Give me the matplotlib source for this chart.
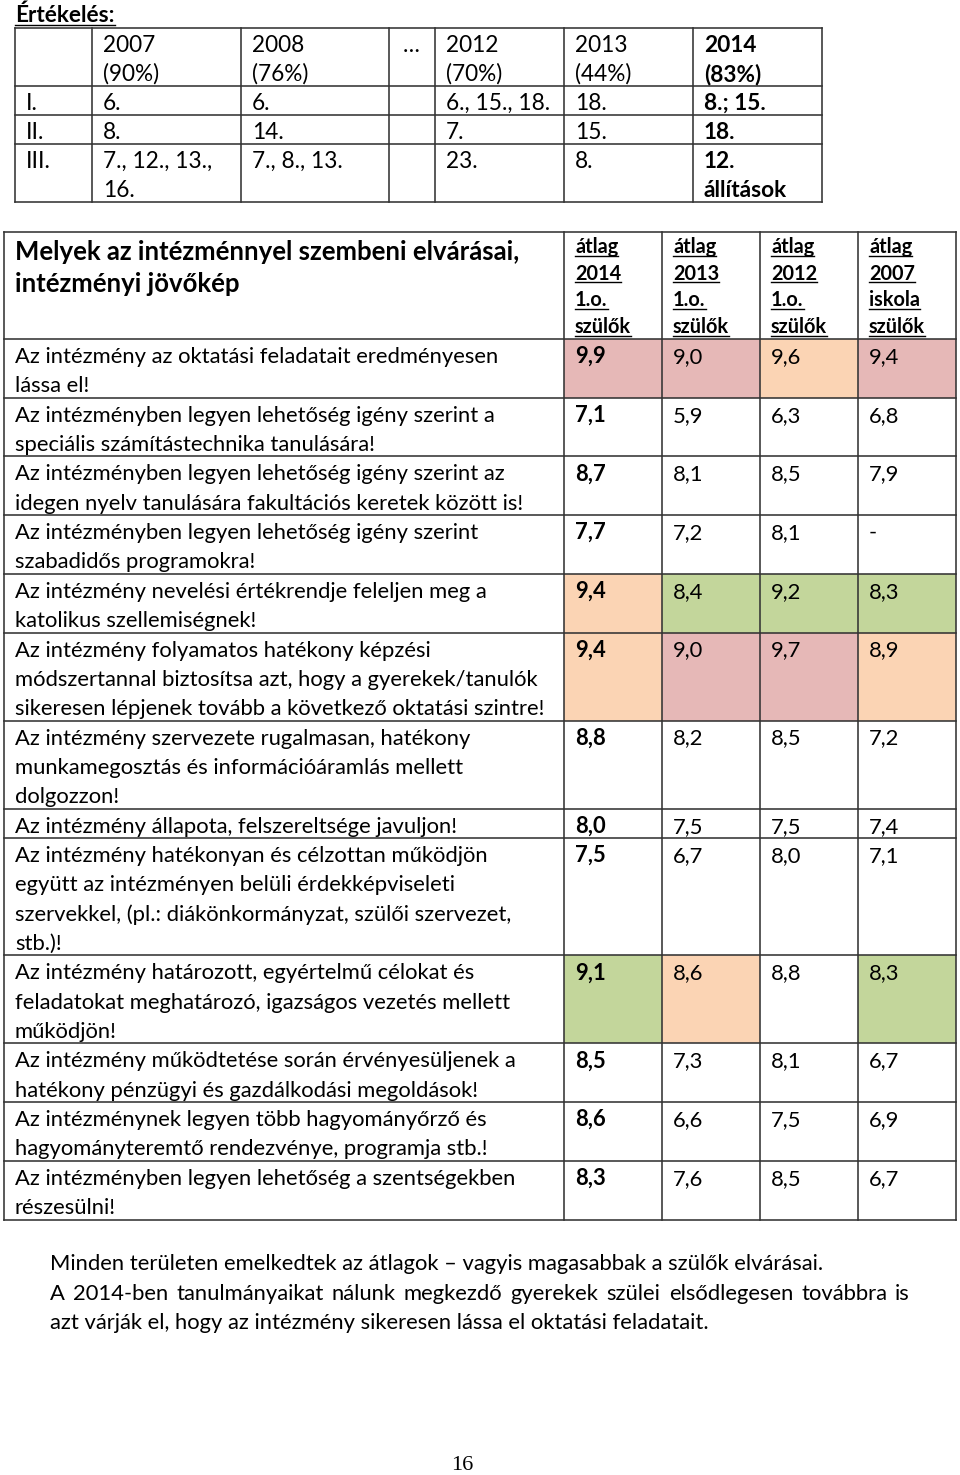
import matplotlib
matplotlib.use("Agg")
import matplotlib.pyplot as plt
from matplotlib.patches import Rectangle

# ---- data: first table (ranking of statements per survey year)
rank_header = ["", "2007\n(90%)", "2008\n(76%)", "…", "2012\n(70%)", "2013\n(44%)", "2014\n(83%)"]
rank_labels = ["I.", "II.", "III."]
rank_2007 = ["6.", "8.", "7., 12., 13.,\n16."]
rank_2008 = ["6.", "14.", "7., 8., 13."]
rank_gap = ["", "", ""]
rank_2012 = ["6., 15., 18.", "7.", "23."]
rank_2013 = ["18.", "15.", "8."]
rank_2014 = ["8.; 15.", "18.", "12.\nállítások"]

# ---- data: second table (averages)
title = "Melyek az intézménnyel szembeni elvárásai,\nintézményi jövőkép"
avg_headers = ["átlag\n2014\n1.o.\nszülők", "átlag\n2013\n1.o.\nszülők",
               "átlag\n2012\n1.o.\nszülők", "átlag\n2007\niskola\nszülők"]
statements = [
    "Az intézmény az oktatási feladatait eredményesen\nlássa el!",
    "Az intézményben legyen lehetőség igény szerint a\nspeciális számítástechnika tanulására!",
    "Az intézményben legyen lehetőség igény szerint az\nidegen nyelv tanulására fakultációs keretek között is!",
    "Az intézményben legyen lehetőség igény szerint\nszabadidős programokra!",
    "Az intézmény nevelési értékrendje feleljen meg a\nkatolikus szellemiségnek!",
    "Az intézmény folyamatos hatékony képzési\nmódszertannal biztosítsa azt, hogy a gyerekek/tanulók\nsikeresen lépjenek tovább a következő oktatási szintre!",
    "Az intézmény szervezete rugalmasan, hatékony\nmunkamegosztás és információáramlás mellett\ndolgozzon!",
    "Az intézmény állapota, felszereltsége javuljon!",
    "Az intézmény hatékonyan és célzottan működjön\negyütt az intézményen belüli érdekképviseleti\nszervekkel, (pl.: diákönkormányzat, szülői szervezet,\nstb.)!",
    "Az intézmény határozott, egyértelmű célokat és\nfeladatokat meghatározó, igazságos vezetés mellett\nműködjön!",
    "Az intézmény működtetése során érvényesüljenek a\nhatékony pénzügyi és gazdálkodási megoldások!",
    "Az intézménynek legyen több hagyományőrző és\nhagyományteremtő rendezvénye, programja stb.!",
    "Az intézményben legyen lehetőség a szentségekben\nrészesülni!",
]
avg_2014 = ["9,9", "7,1", "8,7", "7,7", "9,4", "9,4", "8,8", "8,0", "7,5", "9,1", "8,5", "8,6", "8,3"]
avg_2013 = ["9,0", "5,9", "8,1", "7,2", "8,4", "9,0", "8,2", "7,5", "6,7", "8,6", "7,3", "6,6", "7,6"]
avg_2012 = ["9,6", "6,3", "8,5", "8,1", "9,2", "9,7", "8,5", "7,5", "8,0", "8,8", "8,1", "7,5", "8,5"]
avg_2007 = ["9,4", "6,8", "7,9", "-", "8,3", "8,9", "7,2", "7,4", "7,1", "8,3", "6,7", "6,9", "6,7"]
# highlight marks per cell (r = red, o = orange, g = green)
mark_2014 = ["r", "", "", "", "o", "o", "", "", "", "g", "", "", ""]
mark_2013 = ["r", "", "", "", "g", "r", "", "", "", "o", "", "", ""]
mark_2012 = ["o", "", "", "", "g", "r", "", "", "", "", "", "", ""]
mark_2007 = ["r", "", "", "", "g", "o", "", "", "", "g", "", "", ""]

summary_1 = "Minden területen emelkedtek az átlagok – vagyis magasabbak a szülők elvárásai."
summary_2 = "A 2014-ben tanulmányaikat nálunk megkezdő gyerekek szülei elsődlegesen továbbra is"
summary_3 = "azt várják el, hogy az intézmény sikeresen lássa el oktatási feladatait."
page_no = "16"

# ---- styling
FONT = ["Lato", "DejaVu Sans"]
FS1 = 16.3   # first table
FS2 = 15.8   # second table body
LINE_C = "#333333"
FILLS = {"r": "#e6b8b7", "o": "#fbd4b4", "g": "#c3d69b"}

fig = plt.figure(figsize=(9.6, 14.75), dpi=100)
ax = fig.add_axes([0, 0, 1, 1])
ax.set_xlim(0, 960)
ax.set_ylim(1475, 0)
ax.axis("off")
renderer = fig.canvas.get_renderer()


def put(x, y, s, size=FS1, bold=False, underline=False, family=FONT, ha="left"):
    t = ax.text(x, y, s, fontsize=size, family=family, ha=ha, va="baseline",
                fontweight="bold" if bold else "normal", color="black")
    if underline:
        bb = t.get_window_extent(renderer=renderer)
        ax.plot([bb.x0, bb.x1], [y + 2.5, y + 2.5], color="black", lw=1.0)
    return t


def put_lines(x, top, s, step, first, **kw):
    for k, line in enumerate(s.split("\n")):
        put(x, top + first + k * step, line, **kw)


def grid(xs, ys, lw=1.15):
    for x in xs:
        ax.plot([x, x], [ys[0], ys[-1]], color=LINE_C, lw=lw, solid_capstyle="projecting")
    for y in ys:
        ax.plot([xs[0], xs[-1]], [y, y], color=LINE_C, lw=lw, solid_capstyle="projecting")


# ---- heading
put(15, 22, "Értékelés:", bold=True, underline=True)

# ---- first table
t1_x = [15, 92, 241, 389, 435, 564, 693, 822]
LH1 = 29.0
t1_cols = [rank_labels, rank_2007, rank_2008, rank_gap, rank_2012, rank_2013, rank_2014]
t1_rows = [rank_header] + [[c[i] for c in t1_cols] for i in range(len(rank_labels))]
t1_y = [28]
for row in t1_rows:
    n = max(cell.count("\n") + 1 for cell in row)
    t1_y.append(t1_y[-1] + n * LH1)
for r, row in enumerate(t1_rows):
    for c, cell in enumerate(row):
        pad = 14 if cell == "…" else 11
        put_lines(t1_x[c] + pad, t1_y[r], cell, LH1, 24, bold=(c == 6))
grid(t1_x, t1_y)

# ---- second table
t2_x = [4, 564, 662, 760, 858, 956]
LH2 = 29.35
head_top = 232
head_h = 107
t2_y = [head_top, head_top + head_h]
for s in statements:
    t2_y.append(t2_y[-1] + (s.count("\n") + 1) * LH2)

value_cols = [avg_2014, avg_2013, avg_2012, avg_2007]
mark_cols = [mark_2014, mark_2013, mark_2012, mark_2007]
for c, marks in enumerate(mark_cols):
    for r, m in enumerate(marks):
        if m:
            ax.add_patch(Rectangle((t2_x[c + 1], t2_y[r + 1]), t2_x[c + 2] - t2_x[c + 1],
                                   t2_y[r + 2] - t2_y[r + 1], facecolor=FILLS[m], edgecolor="none"))

put_lines(15, head_top, title, 32, 28, size=18.5, bold=True)
for c, h in enumerate(avg_headers):
    for k, line in enumerate(h.split("\n")):
        put(t2_x[c + 1] + 11, head_top + 21 + k * 26.7, line, size=14.3, bold=True, underline=True)

for r, s in enumerate(statements):
    put_lines(15, t2_y[r + 1], s, LH2, 24, size=FS2)
    for c, vals in enumerate(value_cols):
        put(t2_x[c + 1] + 11, t2_y[r + 1] + 24, vals[r], size=FS2, bold=(c == 0))

grid(t2_x, t2_y)

# ---- summary text
SFS = 15.8
put(50, 1270, summary_1, size=SFS)
# justified line
words = summary_2.split(" ")
widths = []
for w in words:
    tmp = ax.text(0, 0, w, fontsize=SFS, family=FONT)
    widths.append(tmp.get_window_extent(renderer=renderer).width)
    tmp.remove()
gap = (910 - 50 - sum(widths)) / (len(words) - 1)
x = 50
for w, wd in zip(words, widths):
    put(x, 1299.5, w, size=SFS)
    x += wd + gap
put(50, 1329, summary_3, size=SFS)

put(462, 1470, page_no, size=16, family=["Liberation Serif", "DejaVu Serif"], ha="center")

fig.savefig("out.png", dpi=100, facecolor="white")
